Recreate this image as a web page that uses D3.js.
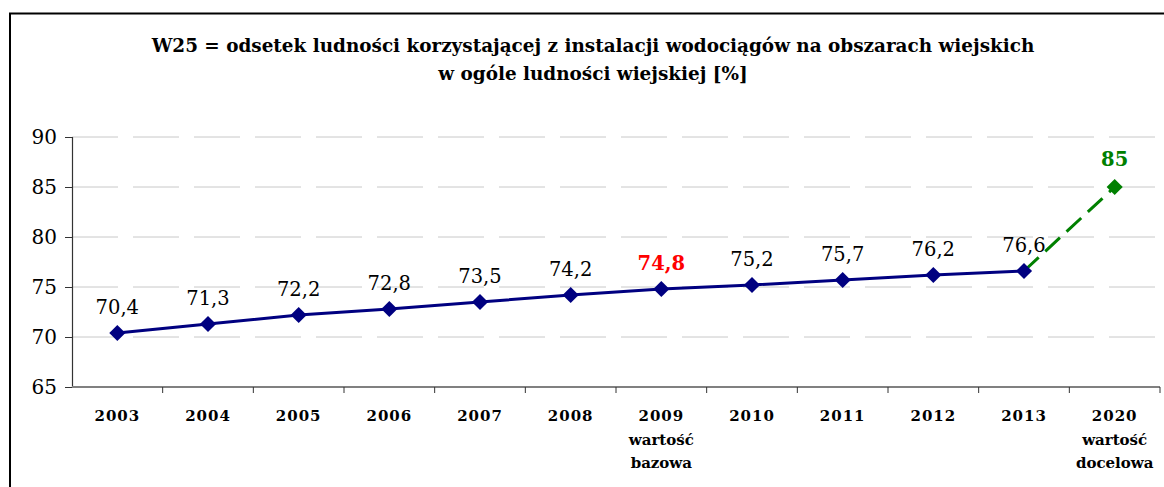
<!DOCTYPE html>
<html>
<head>
<meta charset="utf-8">
<script src="https://d3js.org/d3.v7.min.js"></script>
<style>
  body { margin: 0; background: #fff; }
  text { font-family: "DejaVu Serif", "Liberation Serif", serif; }
</style>
</head>
<body>
<div id="chart"></div>
<script>
// data
const years = ["2003", "2004", "2005", "2006", "2007", "2008", "2009", "2010", "2011", "2012", "2013", "2020"];
const subLabels = {"2009": ["wartość", "bazowa"], "2020": ["wartość", "docelowa"]};
const actual = [70.4, 71.3, 72.2, 72.8, 73.5, 74.2, 74.8, 75.2, 75.7, 76.2, 76.6];
const target = [{year: "2013", value: 76.6}, {year: "2020", value: 85}];
const yTicks = [65, 70, 75, 80, 85, 90];
const baseYear = "2009";
const titleLines = ["W25 = odsetek ludności korzystającej z instalacji wodociągów na obszarach wiejskich",
                    "w ogóle ludności wiejskiej [%]"];

const W = 1164, H = 487;
const margin = {top: 137, right: 4, bottom: 100, left: 72};

const svg = d3.select("#chart").append("svg")
    .attr("width", W)
    .attr("height", H);

// outer frame (only left & top visible in the picture)
svg.append("rect")
    .attr("x", 10).attr("y", 13.5)
    .attr("width", W + 20).attr("height", H + 20)
    .attr("fill", "none")
    .attr("stroke", "#000")
    .attr("stroke-width", 2);

// title
svg.append("g").selectAll("text")
    .data(titleLines)
    .join("text")
    .attr("x", 593)
    .attr("y", (d, i) => 52 + i * 28)
    .attr("text-anchor", "middle")
    .attr("font-weight", "bold")
    .attr("font-size", 18.4)
    .text(d => d);

const x = d3.scaleBand()
    .domain(years)
    .range([margin.left, W - margin.right]);

const y = d3.scaleLinear()
    .domain([65, 90])
    .range([H - margin.bottom, margin.top]);

// gridlines
svg.append("g")
    .selectAll("line")
    .data(yTicks.filter(d => d > 65))
    .join("line")
    .attr("x1", margin.left)
    .attr("x2", W - margin.right)
    .attr("y1", d => y(d))
    .attr("y2", d => y(d))
    .attr("stroke", "#c8c8c8")
    .attr("stroke-width", 1)
    .attr("stroke-dasharray", "46,15");

// y axis
const yAxis = svg.append("g")
    .attr("transform", `translate(${margin.left},0)`)
    .call(d3.axisLeft(y).tickValues(yTicks).tickSize(7).tickPadding(8));
yAxis.select(".domain").attr("stroke", "#333").attr("stroke-width", 1.2);
yAxis.selectAll(".tick line").attr("stroke", "#333");
yAxis.selectAll("text")
    .attr("font-family", "DejaVu Serif, serif")
    .attr("font-size", 20)
    .attr("fill", "#000");

// x axis (ticks between categories)
const xAxis = svg.append("g")
    .attr("transform", `translate(0,${y(65)})`);
xAxis.append("line")
    .attr("x1", margin.left).attr("x2", W - margin.right)
    .attr("stroke", "#808080").attr("stroke-width", 2);
xAxis.selectAll(".sep")
    .data(years)
    .join("line")
    .attr("class", "sep")
    .attr("x1", d => x(d) + x.bandwidth())
    .attr("x2", d => x(d) + x.bandwidth())
    .attr("y1", 0).attr("y2", 6)
    .attr("stroke", "#333");

const xl = xAxis.selectAll(".xl")
    .data(years)
    .join("text")
    .attr("class", "xl")
    .attr("x", d => x(d) + x.bandwidth() / 2)
    .attr("text-anchor", "middle")
    .attr("font-weight", "bold")
    .attr("font-size", 15)
    .attr("letter-spacing", 1);
xl.append("tspan").attr("x", d => x(d) + x.bandwidth() / 2).attr("y", 34).text(d => d);
xl.each(function(d) {
    (subLabels[d] || []).forEach((s, i) => {
        d3.select(this).append("tspan")
            .attr("x", x(d) + x.bandwidth() / 2)
            .attr("y", 58 + i * 23)
            .attr("letter-spacing", 0)
            .text(s);
    });
});

const cx = d => x(d) + x.bandwidth() / 2;

// target dashed line
svg.append("path")
    .datum(target)
    .attr("fill", "none")
    .attr("stroke", "#008000")
    .attr("stroke-width", 3)
    .attr("stroke-dasharray", "20,9")
    .attr("d", d3.line().x(d => cx(d.year)).y(d => y(d.value)));

// actual line
const pts = actual.map((v, i) => ({year: years[i], value: v}));
svg.append("path")
    .datum(pts)
    .attr("fill", "none")
    .attr("stroke", "#000080")
    .attr("stroke-width", 3)
    .attr("d", d3.line().x(d => cx(d.year)).y(d => y(d.value)));

const diamond = d3.symbol().type(d3.symbolSquare).size(130);
svg.append("g").selectAll("path")
    .data(pts)
    .join("path")
    .attr("d", diamond)
    .attr("transform", d => `translate(${cx(d.year)},${y(d.value)}) rotate(45)`)
    .attr("fill", "#000080");

svg.append("path")
    .attr("d", diamond)
    .attr("transform", `translate(${cx(target[1].year)},${y(target[1].value)}) rotate(45)`)
    .attr("fill", "#008000");

// value labels
const fmt = v => String(v).replace(".", ",");
svg.append("g").selectAll("text")
    .data(pts)
    .join("text")
    .attr("x", d => cx(d.year))
    .attr("y", d => y(d.value) - 19)
    .attr("text-anchor", "middle")
    .attr("font-size", 19.5)
    .attr("font-weight", d => d.year === baseYear ? "bold" : "normal")
    .attr("fill", d => d.year === baseYear ? "#ff0000" : "#000")
    .text(d => fmt(d.value));

svg.append("text")
    .attr("x", cx(target[1].year))
    .attr("y", y(target[1].value) - 21)
    .attr("text-anchor", "middle")
    .attr("font-size", 19.5)
    .attr("font-weight", "bold")
    .attr("fill", "#008000")
    .text(fmt(target[1].value));
</script>
</body>
</html>
